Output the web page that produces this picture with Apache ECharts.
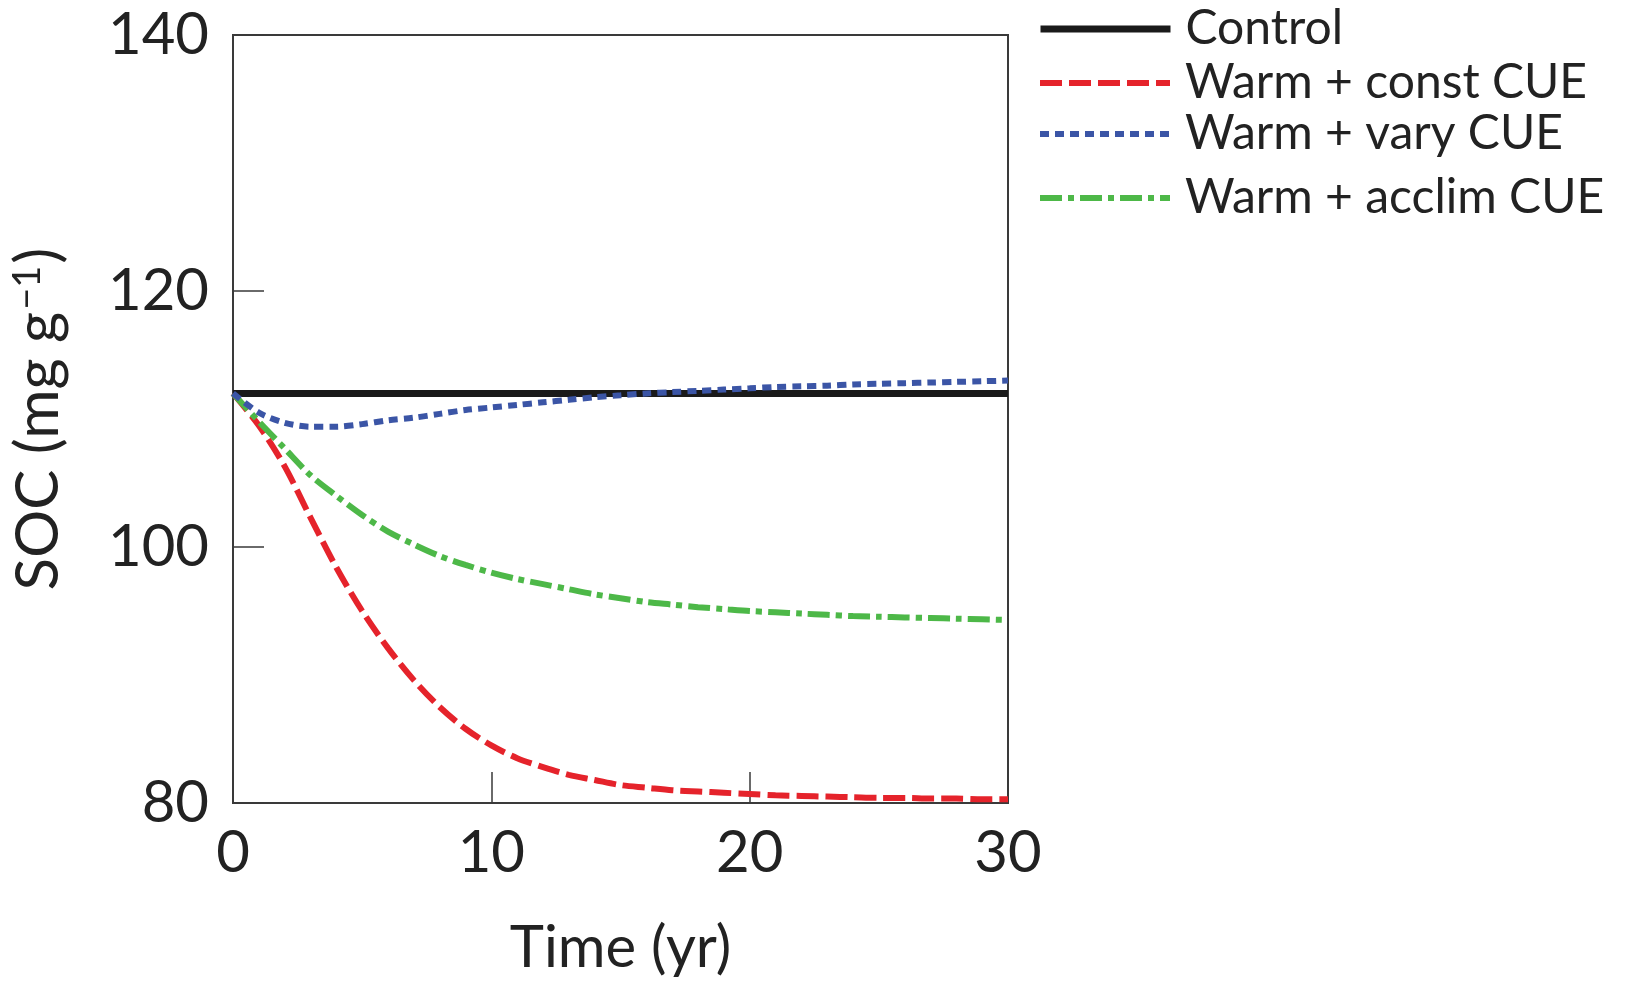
<!DOCTYPE html>
<html>
<head>
<meta charset="utf-8">
<script src="https://cdn.jsdelivr.net/npm/echarts@6/dist/echarts.min.js"></script>
<style>html,body{margin:0;padding:0;background:#fff;overflow:hidden;width:1638px;height:982px}#c{width:1638px;height:982px}</style>
</head>
<body>
<div id="c"></div>
<script>
const years = [0,1,2,3,4,5,6,7,8,9,10,11,12,13,14,15,16,17,18,19,20,21,22,23,24,25,26,27,28,29,30];
const control = [112,112,112,112,112,112,112,112,112,112,112,112,112,112,112,112,112,112,112,112,112,112,112,112,112,112,112,112,112,112,112];
const constCUE = [112,109.5,106.3,102.3,98.4,95.0,92.1,89.6,87.5,85.8,84.5,83.5,82.8,82.2,81.8,81.4,81.2,81.0,80.9,80.8,80.7,80.6,80.55,80.5,80.45,80.4,80.4,80.35,80.35,80.3,80.3];
const varyCUE = [112,110.5,109.7,109.4,109.4,109.6,109.9,110.1,110.4,110.7,110.9,111.1,111.3,111.5,111.7,111.85,112.0,112.1,112.2,112.3,112.4,112.5,112.55,112.6,112.7,112.75,112.8,112.85,112.9,112.95,113.0];
const acclimCUE = [112,109.8,107.7,105.6,104.0,102.5,101.2,100.2,99.3,98.6,98.0,97.5,97.1,96.7,96.3,96.0,95.7,95.5,95.3,95.15,95.0,94.9,94.8,94.7,94.6,94.55,94.5,94.45,94.4,94.35,94.3];
const seriesNames = ['Control','Warm + const CUE','Warm + vary CUE','Warm + acclim CUE'];
const xTicks = [0,10,20,30];
const yTicks = [80,100,120,140];

const FONT = 'Lato';
const TXT = '#222222';
const pair = arr => years.map((y,i)=>[y,arr[i]]);
const colors = ['#1a1a1a','#e5232b','#3b55a6','#4db848'];
const dashes = ['solid',[22,7],[9,6],[22,6,6,6]];
const widths = [7,6,6,6];

const chart = echarts.init(document.getElementById('c'), null, {width:1638, height:982});
const legendTops = [5,59,110,174];
chart.setOption({
  animation:false,
  backgroundColor:'#fff',
  grid:{left:233, top:35, width:775, height:781, show:true, borderColor:'#3a3a3a', borderWidth:2, containLabel:false},
  legend: seriesNames.map((n,i)=>({
    orient:'vertical', left:1037, top:legendTops[i], padding:0, itemWidth:130, itemHeight:16, itemGap:0,
    textStyle:{fontFamily:FONT, fontSize:48, color:TXT, padding:[0,0,0,10]},
    selectedMode:false, data:[n],
    itemStyle:{opacity:0},
    lineStyle:{width:widths[i], type:dashes[i], color:colors[i], opacity:1}
  })),
  xAxis:{
    type:'value', min:0, max:30, interval:10,
    name:'Time (yr)', nameLocation:'middle', nameGap:116,
    nameTextStyle:{fontFamily:FONT, fontSize:58, color:TXT},
    axisLine:{show:true, lineStyle:{color:'#3a3a3a', width:2}},
    axisTick:{show:true, inside:true, length:31, lineStyle:{color:'#3a3a3a', width:1.5}},
    axisLabel:{fontFamily:FONT, fontSize:58, color:TXT, margin:21,
      formatter: v => xTicks.indexOf(v) >= 0 ? String(v) : ''},
    splitLine:{show:false}
  },
  yAxis:{
    type:'value', min:80, max:140, interval:20,
    name:'{a|SOC (mg g}{b|−1}{a|)}', nameLocation:'middle', nameGap:164, nameRotate:90,
    nameTextStyle:{fontFamily:FONT, fontSize:60, color:TXT,
      rich:{a:{fontFamily:FONT, fontSize:60, color:TXT},
            b:{fontFamily:FONT, fontSize:38, color:TXT, verticalAlign:'top', padding:[0,2,0,2]}}},
    axisLine:{show:true, lineStyle:{color:'#3a3a3a', width:2}},
    axisTick:{show:true, inside:true, length:31, lineStyle:{color:'#3a3a3a', width:1.5}},
    axisLabel:{fontFamily:FONT, fontSize:58, color:TXT, margin:24,
      formatter: v => yTicks.indexOf(v) >= 0 ? String(v) : ''},
    splitLine:{show:false}
  },
  series:[
    {name:seriesNames[0], type:'line', data:pair(control), showSymbol:false, symbol:'none', z:5,
     lineStyle:{color:colors[0], width:widths[0], type:dashes[0]}, itemStyle:{color:colors[0]}},
    {name:seriesNames[1], type:'line', data:pair(constCUE), showSymbol:false, symbol:'none', smooth:0.3,
     lineStyle:{color:colors[1], width:widths[1], type:dashes[1]}, itemStyle:{color:colors[1]}},
    {name:seriesNames[2], type:'line', data:pair(varyCUE), showSymbol:false, symbol:'none', smooth:0.3, z:6,
     lineStyle:{color:colors[2], width:widths[2], type:dashes[2]}, itemStyle:{color:colors[2]}},
    {name:seriesNames[3], type:'line', data:pair(acclimCUE), showSymbol:false, symbol:'none', smooth:0.3,
     lineStyle:{color:colors[3], width:widths[3], type:dashes[3]}, itemStyle:{color:colors[3]}}
  ]
});
</script>
</body>
</html>
